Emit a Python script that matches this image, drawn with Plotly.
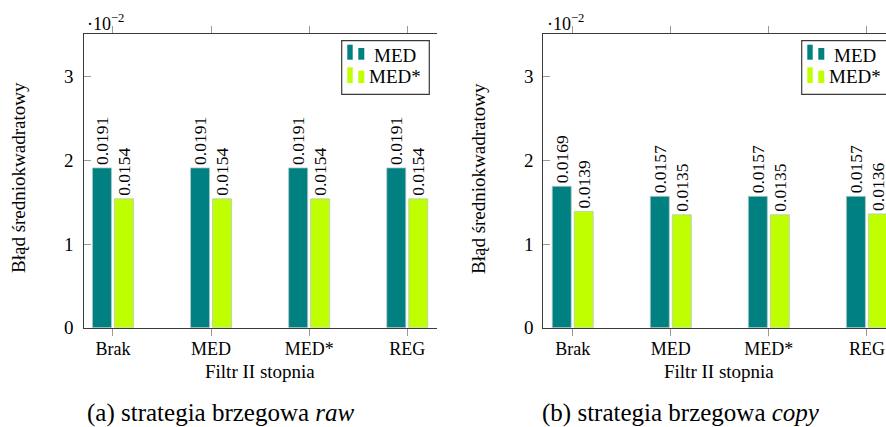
import plotly.graph_objects as go

# Second-stage filter variants (x categories)
categories = ["Brak", "MED", "MED*", "REG"]

# Mean squared error, edge strategy "raw"
raw_med = [0.0191, 0.0191, 0.0191, 0.0191]
raw_med_star = [0.0154, 0.0154, 0.0154, 0.0154]

# Mean squared error, edge strategy "copy"
copy_med = [0.0169, 0.0157, 0.0157, 0.0157]
copy_med_star = [0.0139, 0.0135, 0.0135, 0.0136]

series_names = ["MED", "MED*"]
y_ticks = [0, 1, 2, 3]
scale = 100  # values shown in units of 10^-2

W, H = 886, 427
TEAL = "#008080"
LIME = "#bfff00"
EDGE = "#b4c8c8"
AXIS = "#3a3a3a"
TICK = "#9a9a9a"
FONT = "Liberation Serif, Times New Roman, serif"


def px(x):
    return x / W


def py(y):
    return 1 - y / H


fig = go.Figure()

panels = [
    ("x", "y", raw_med, raw_med_star),
    ("x2", "y2", copy_med, copy_med_star),
]
for xa, ya, med, med_star in panels:
    for name, vals, color in zip(series_names, [med, med_star], [TEAL, LIME]):
        fig.add_trace(go.Bar(
            x=categories,
            y=[v * scale for v in vals],
            name=name,
            text=[f"{v:.4f}" for v in vals],
            textposition="outside",
            textangle=-90,
            constraintext="none",
            cliponaxis=False,
            textfont=dict(family=FONT, size=17.5, color="black"),
            marker=dict(color=color, line=dict(color=EDGE, width=0.8)),
            xaxis=xa, yaxis=ya, showlegend=False,
            hoverinfo="skip",
        ))

y_top, y_bot = 34, 327.7
left_dom = [px(83.5), px(436.7)]
right_dom = [px(543.3), 1.0]
ydom = [py(y_bot), py(y_top)]

xcommon = dict(
    type="category", range=[-0.3, 3.3], showgrid=False, zeroline=False,
    showline=True, linecolor=AXIS, linewidth=1.2, mirror="ticks",
    ticks="outside", ticklen=7, tickcolor=TICK, tickwidth=1, ticklabelstandoff=-2,
    tickfont=dict(family=FONT, size=18, color="black"), automargin=False,
)
ycommon = dict(
    range=[0, 3.51], tickvals=y_ticks, ticktext=[str(t) for t in y_ticks],
    showgrid=False, zeroline=False, showline=True, linecolor=AXIS, linewidth=1.2,
    ticks="inside", ticklen=7, tickcolor=TICK, tickwidth=1, ticklabelstandoff=5,
    tickfont=dict(family=FONT, size=19, color="black"), automargin=False,
)

fig.update_layout(
    width=W, height=H,
    margin=dict(l=0, r=0, t=0, b=0),
    paper_bgcolor="white", plot_bgcolor="white",
    barmode="group", bargap=0.552, bargroupgap=0.134,
    font=dict(family=FONT, color="black"),
    showlegend=False,
    xaxis=dict(domain=left_dom, anchor="y", **xcommon),
    yaxis=dict(domain=ydom, anchor="x", **ycommon),
    xaxis2=dict(domain=right_dom, anchor="y2", **{**xcommon, "range": [-0.3, 3.195]}),
    yaxis2=dict(domain=ydom, anchor="x2", **{**ycommon, "mirror": False}),
)

annotations = []
shapes = []


def add_legend(dx, clip_right=False):
    """Boxed legend with pgfplots-style double-bar swatches, offset by dx pixels."""
    x0, x1, y0, y1 = 341.7 + dx, min(429.3 + dx, W), 40.7, 94.3
    if clip_right:
        path = f"M {px(x1)} {py(y0)} L {px(x0)} {py(y0)} L {px(x0)} {py(y1)} L {px(x1)} {py(y1)}"
        shapes.append(dict(type="path", xref="paper", yref="paper", path=path,
                           line=dict(color=AXIS, width=1.2), fillcolor="white", layer="above"))
    else:
        shapes.append(dict(type="rect", xref="paper", yref="paper",
                           x0=px(x0), x1=px(x1), y0=py(y0), y1=py(y1),
                           line=dict(color=AXIS, width=1.2), fillcolor="white", layer="above"))
    for name, color, (t_tall, t_short, bottom, cy) in zip(
        series_names, [TEAL, LIME], [(44.7, 48.0, 59.7, 55.0), (67.3, 70.7, 83.0, 77.0)]
    ):
        for (bx0, bx1), top in [((347.3, 352.7), t_tall), ((358.3, 364.3), t_short)]:
            shapes.append(dict(type="rect", xref="paper", yref="paper",
                               x0=px(bx0 + dx), x1=px(bx1 + dx), y0=py(bottom), y1=py(top),
                               line=dict(width=0), fillcolor=color, layer="above"))
        annotations.append(dict(
            x=px(394.5 + dx), y=py(cy), xref="paper", yref="paper",
            xanchor="center", yanchor="middle", text=name, showarrow=False,
            font=dict(family=FONT, size=19),
        ))


add_legend(0)
add_legend(460, clip_right=True)

for x0, cx, ycx, capx, caption in [
    (85, 260, 18, 221, "(a) strategia brzegowa <i>raw</i>"),
    (545, 719, 478, 681, "(b) strategia brzegowa <i>copy</i>"),
]:
    # exponent marker for the y axis
    annotations.append(dict(
        x=px(x0), y=py(22), xref="paper", yref="paper", xanchor="left", yanchor="middle",
        text="·10<sup>−2</sup>", showarrow=False, font=dict(family=FONT, size=18),
    ))
    # x axis title
    annotations.append(dict(
        x=px(cx), y=py(371), xref="paper", yref="paper", xanchor="center", yanchor="middle",
        text="Filtr II stopnia", showarrow=False, font=dict(family=FONT, size=19),
    ))
    # y axis title
    annotations.append(dict(
        x=px(ycx), y=py(178), xref="paper", yref="paper", xanchor="center", yanchor="middle",
        text="Błąd średniokwadratowy", textangle=-90, showarrow=False,
        font=dict(family=FONT, size=19),
    ))
    # sub-figure caption
    annotations.append(dict(
        x=px(capx), y=py(413), xref="paper", yref="paper",
        xanchor="center", yanchor="middle",
        text=caption, showarrow=False, font=dict(family=FONT, size=25),
    ))

fig.update_layout(annotations=annotations, shapes=shapes)

fig.write_html("out.html")
